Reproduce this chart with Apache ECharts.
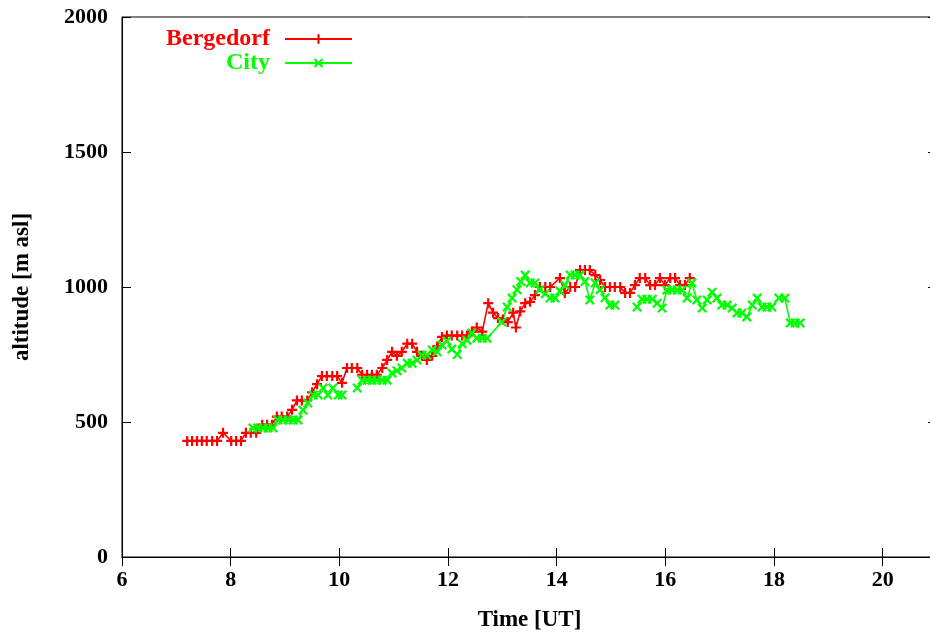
<!DOCTYPE html>
<html>
<head>
<meta charset="utf-8">
<script src="https://cdn.jsdelivr.net/npm/echarts@6/dist/echarts.min.js"></script>
<style>html,body{margin:0;padding:0;background:#fff;}#c{width:930px;height:634px;}</style>
</head>
<body>
<div id="c"></div>
<script>
// Bergedorf: time [UT] and altitude [m asl]
var bergTime = [7.20,7.29,7.38,7.47,7.56,7.66,7.75,7.86,8.01,8.10,8.19,8.28,8.37,8.47,8.58,8.67,8.76,8.85,8.94,9.04,
  9.13,9.22,9.31,9.41,9.50,9.59,9.68,9.77,9.87,9.96,10.05,10.14,10.23,10.33,10.42,10.51,10.60,10.69,10.79,10.88,
  10.97,11.06,11.15,11.25,11.34,11.43,11.52,11.61,11.71,11.80,11.89,11.98,12.07,12.17,12.26,12.35,12.44,12.53,12.63,12.74,
  12.83,12.92,13.01,13.10,13.20,13.25,13.33,13.42,13.51,13.60,13.69,13.79,13.88,14.06,14.15,14.25,14.34,14.43,14.52,14.61,
  14.71,14.80,14.89,14.98,15.07,15.17,15.26,15.35,15.44,15.53,15.63,15.72,15.81,15.90,15.99,16.09,16.18,16.27,16.36,16.45];
var bergAlt = [430,430,430,430,430,430,430,460,430,430,430,460,460,460,490,490,490,520,520,520,
  545,580,580,580,610,640,670,670,670,670,645,700,700,700,675,675,675,675,700,730,
  760,745,760,790,790,760,745,730,745,780,815,820,820,820,820,820,835,850,835,940,
  905,885,880,870,905,850,910,940,945,970,1000,1000,1000,1033,978,1000,1000,1063,1063,1063,
  1044,1026,1000,1000,1000,1000,978,978,1007,1033,1033,1007,1007,1033,1007,1033,1033,1007,1007,1033];

// City: time [UT] and altitude [m asl]; null = no data
var cityTime = [8.41,8.50,8.60,8.69,8.78,8.87,8.96,9.06,9.15,9.24,9.33,9.42,9.52,9.61,9.70,9.79,9.88,9.98,10.05,10.19,
  10.33,10.42,10.51,10.60,10.69,10.79,10.88,10.97,11.06,11.15,11.25,11.34,11.43,11.52,11.61,11.71,11.80,11.89,11.98,12.07,
  12.17,12.26,12.35,12.44,12.53,12.63,12.72,12.99,13.09,13.18,13.27,13.34,13.42,13.51,13.60,13.69,13.79,13.88,13.97,14.06,
  14.15,14.25,14.34,14.43,14.52,14.61,14.71,14.80,14.89,14.98,15.07,15.28,15.48,15.57,15.66,15.76,15.85,15.94,16.03,16.12,
  16.22,16.31,16.40,16.49,16.58,16.68,16.77,16.86,16.95,17.04,17.14,17.23,17.32,17.41,17.50,17.60,17.69,17.78,17.87,17.96,
  18.09,18.20,18.30,18.39,18.48];
var cityAlt = [478,478,478,478,478,507,507,507,507,507,544,570,600,600,626,600,626,600,600,null,
  626,655,655,655,655,655,655,681,690,700,718,718,730,748,748,767,760,785,800,770,
  750,790,803,830,810,810,810,870,926,959,990,1020,1044,1015,1015,990,975,959,959,985,
  1007,1044,1044,1044,1020,952,1015,990,960,933,933,null,926,955,955,955,940,922,989,989,
  989,989,959,1015,952,922,952,981,959,933,933,922,904,904,889,933,959,926,926,926,
  959,959,867,867,867];

var xTicksMin = 6, xTicksMax = 21, xStep = 2;
var yTicksMin = 0, yTicksMax = 2000, yStep = 500;
var seriesNames = ['Bergedorf', 'City'];

function pairs(t, v) {
  return t.map(function (x, i) { return [x, v[i] === null ? '-' : v[i]]; });
}

var FONT = 'Liberation Serif';
var plusPath = 'path://M0,3.9L10,3.9L10,6.1L0,6.1Z M3.9,0L6.1,0L6.1,10L3.9,10Z';
var crossPath = 'path://M0,1.6L1.6,0L10,8.4L8.4,10Z M8.4,0L10,1.6L1.6,10L0,8.4Z';

var chart = echarts.init(document.getElementById('c'), null, {renderer: 'canvas'});
var axisLineStyle = {lineStyle: {color: '#000', width: 1}};
var labelStyle = {color: '#000', fontFamily: FONT, fontWeight: 'bold', fontSize: 22};
function plain(v) { return String(v); }

chart.setOption({
  animation: false,
  backgroundColor: '#fff',
  grid: {left: 122, top: 17, width: 815, height: 540, show: true, borderColor: '#000', borderWidth: 1,
         containLabel: false, outerBoundsMode: 'none'},
  legend: [
    {data: [seriesNames[0]], right: 572, top: 22, align: 'right', orient: 'vertical', itemWidth: 67, itemHeight: 12,
     textStyle: {color: '#ff0000', fontFamily: FONT, fontWeight: 'bold', fontSize: 24, padding: [0, 10, 0, 0]}},
    {data: [seriesNames[1]], right: 572, top: 46, align: 'right', orient: 'vertical', itemWidth: 67, itemHeight: 12,
     textStyle: {color: '#00ff00', fontFamily: FONT, fontWeight: 'bold', fontSize: 24, padding: [0, 10, 0, 0]}}
  ],
  xAxis: [
    {type: 'value', min: xTicksMin, max: xTicksMax, interval: xStep, position: 'bottom',
     axisLine: axisLineStyle, axisTick: {inside: true, length: 9, lineStyle: {color: '#000'}},
     axisLabel: Object.assign({margin: 12, showMaxLabel: false, formatter: plain}, labelStyle),
     splitLine: {show: false},
     name: 'Time [UT]', nameLocation: 'middle', nameGap: 52,
     nameTextStyle: {color: '#000', fontFamily: FONT, fontWeight: 'bold', fontSize: 23}},
    {type: 'value', min: xTicksMin, max: xTicksMax, interval: xStep, position: 'top',
     axisLine: axisLineStyle, axisTick: {inside: true, length: 9, lineStyle: {color: '#000'}},
     axisLabel: {show: false}, splitLine: {show: false}}
  ],
  yAxis: [
    {type: 'value', min: yTicksMin, max: yTicksMax, interval: yStep, position: 'left',
     axisLine: {show: true, lineStyle: {color: '#000', width: 1}}, axisTick: {show: true, inside: true, length: 9, lineStyle: {color: '#000'}},
     axisLabel: Object.assign({margin: 14, formatter: plain}, labelStyle),
     splitLine: {show: false},
     name: 'altitude [m asl]', nameLocation: 'middle', nameGap: 88,
     nameTextStyle: {color: '#000', fontFamily: FONT, fontWeight: 'bold', fontSize: 23}},
    {type: 'value', min: yTicksMin, max: yTicksMax, interval: yStep, position: 'right',
     axisLine: {show: true, lineStyle: {color: '#000', width: 1}}, axisTick: {show: true, inside: true, length: 9, lineStyle: {color: '#000'}},
     axisLabel: {show: false}, splitLine: {show: false}}
  ],
  series: [
    {name: seriesNames[0], type: 'line', data: pairs(bergTime, bergAlt), xAxisIndex: 0, yAxisIndex: 0,
     symbol: plusPath, symbolSize: 10, showAllSymbol: true, connectNulls: false,
     lineStyle: {color: '#ff0000', width: 1.6}, itemStyle: {color: '#ff0000'}},
    {name: seriesNames[1], type: 'line', data: pairs(cityTime, cityAlt), xAxisIndex: 0, yAxisIndex: 0,
     symbol: crossPath, symbolSize: 10, showAllSymbol: true, connectNulls: false,
     lineStyle: {color: '#00ff00', width: 1.6}, itemStyle: {color: '#00ff00'}}
  ]
});
</script>
</body>
</html>
